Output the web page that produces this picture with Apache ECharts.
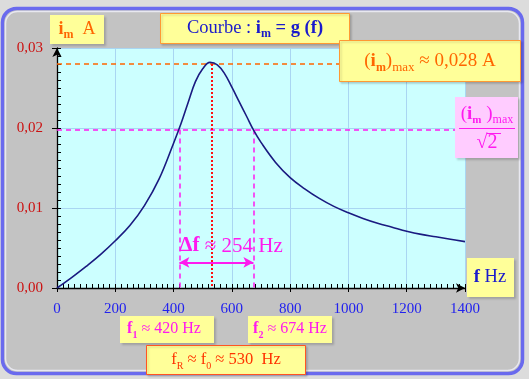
<!DOCTYPE html>
<html>
<head>
<meta charset="utf-8">
<script src="https://cdn.jsdelivr.net/npm/echarts@6/dist/echarts.min.js"></script>
<style>
html,body{margin:0;padding:0;background:#dcdcdc;}
#chart{width:529px;height:379px;}
</style>
</head>
<body>
<div id="chart"></div>
<script>
// ---- data ----
const freq = [0, 50, 100, 150, 200, 250, 300, 350, 400, 425, 450, 475, 500, 525, 550, 575, 600, 625, 650, 675, 700, 750, 800, 850, 900, 950, 1000, 1050, 1100, 1150, 1200, 1250, 1300, 1350, 1400];
const current = [0, 0.0013, 0.0027, 0.0042, 0.0059, 0.0078, 0.0103, 0.0136, 0.0181, 0.0205, 0.0232, 0.0258, 0.0274, 0.0282, 0.0279, 0.0268, 0.0251, 0.0233, 0.0215, 0.0197, 0.0182, 0.0157, 0.0138, 0.0124, 0.0112, 0.0102, 0.0094, 0.0087, 0.0081, 0.0076, 0.0071, 0.0067, 0.0064, 0.0061, 0.0058];
const xTickLabels = ['0', '200', '400', '600', '800', '1000', '1200', '1400'];
const yTickLabels = ['0,00', '0,01', '0,02', '0,03'];
const fRes = 530;      // f_R = f_0
const f1 = 420;
const f2 = 674;
const iMax = 0.028;
const iHalf = 0.0198;  // (i_m)max / sqrt(2)
const arrowLevel = 0.0032; // height of the Δf arrow

const SERIF = 'Liberation Serif';
const MAGENTA = '#ff1aef';
const ORANGE = '#ff6600';
const BLUE = '#1a1acc';

const chart = echarts.init(document.getElementById('chart'), null, {renderer: 'canvas'});

function tok(size, color, bold, extra) {
  return Object.assign({fontSize: size, fontFamily: SERIF, fill: color, color: color, fontWeight: bold ? 'bold' : 'normal'}, extra || {});
}
function mainTok(size, color, bold, lh) {
  return tok(size, color, bold, {lineHeight: lh, verticalAlign: 'middle'});
}
function subTok(size, color, bold) {
  return tok(size, color, bold, {lineHeight: size + 1, verticalAlign: 'bottom'});
}
function rect(x, y, w, h, fill, stroke, lw, z) {
  return {type: 'rect', z: z == null ? 100 : z, silent: true,
    shape: {x: x, y: y, width: w, height: h},
    style: {fill: fill, stroke: stroke || null, lineWidth: lw || 0,
      shadowColor: 'rgba(0,0,0,0.18)', shadowBlur: 2, shadowOffsetX: 1.5, shadowOffsetY: 1.5}};
}
function label(x, y, text, rich, z) {
  return {type: 'text', z: z == null ? 101 : z, silent: true, x: x, y: y,
    style: {text: text, rich: rich, align: 'center', verticalAlign: 'middle', fontFamily: SERIF}};
}

const graphics = [
  // outer frame
  {type: 'rect', z: -100, silent: true, shape: {x: 2.5, y: 8.5, width: 520, height: 365, r: 14},
    style: {fill: '#c3c3c3', stroke: '#6a6aee', lineWidth: 3.5}},
  {type: 'rect', z: -99, silent: true, shape: {x: 5.5, y: 11.5, width: 514, height: 359, r: 12},
    style: {fill: null, stroke: '#e8e8f0', lineWidth: 1.5}},

  // title
  rect(160.5, 13.5, 189, 30, '#ffff99', '#ff9933', 1),
  label(255, 28, '{a|Courbe : }{b|i}{s|m}{b| = g (f)}', {
    a: mainTok(18.5, BLUE, false, 24), b: mainTok(18.5, BLUE, true, 24), s: subTok(12, BLUE, true)}),

  // i_m A
  rect(50, 15, 54, 29, '#ffff99'),
  label(77, 29, '{b|i}{s|m}{a|  A}', {
    a: mainTok(18, ORANGE, false, 24), b: mainTok(18, ORANGE, true, 24), s: subTok(12, ORANGE, true)}),

  // (i_m)max ≈ 0,028 A
  rect(339.5, 40.5, 181, 41, '#ffff99', '#ff9933', 1),
  label(430, 61, '{a|(}{b|i}{s|m}{a|)}{t|max}{a| ≈ 0,028 A}', {
    a: mainTok(19, ORANGE, false, 26), b: mainTok(19, ORANGE, true, 26),
    s: subTok(12, ORANGE, true), t: subTok(13, ORANGE, false)}),

  // (i_m)max / sqrt2
  rect(455, 97, 63, 61, '#ffccff'),
  label(487, 114, '{a|(}{b|i}{s|m}{a| )}{t|max}', {
    a: mainTok(19, MAGENTA, false, 24), b: mainTok(19, MAGENTA, true, 24),
    s: subTok(11, MAGENTA, true), t: subTok(12, MAGENTA, false)}),
  {type: 'line', z: 101, silent: true, shape: {x1: 459, y1: 128.5, x2: 515, y2: 128.5}, style: {stroke: MAGENTA, lineWidth: 1}},
  label(487, 143, '{a|√2}', {a: mainTok(20, MAGENTA, false, 24)}),
  {type: 'line', z: 101, silent: true, shape: {x1: 487, y1: 133.5, x2: 501, y2: 133.5}, style: {stroke: MAGENTA, lineWidth: 1}},

  // Δf label
  label(231, 246, '{b|Δf}{a| ≈ 254 Hz}', {a: mainTok(21, MAGENTA, false, 24), b: mainTok(21, MAGENTA, true, 24)}),

  // f Hz
  rect(467, 258, 47, 39, '#ffff99'),
  label(490, 277, '{b|f}{a| Hz}', {a: mainTok(18.5, BLUE, false, 22), b: mainTok(18.5, BLUE, true, 22)}),

  // f1 ≈ 420 Hz
  rect(120, 316, 94, 27, '#ffff99'),
  label(164, 329, '{b|f}{s|1}{a| ≈ 420 Hz}', {
    a: mainTok(16, MAGENTA, false, 22), b: mainTok(16, MAGENTA, true, 22), s: subTok(10, MAGENTA, true)}),

  // f2 ≈ 674 Hz
  rect(248, 316, 84, 27, '#ffff99'),
  label(290, 329, '{b|f}{s|2}{a| ≈ 674 Hz}', {
    a: mainTok(16, MAGENTA, false, 22), b: mainTok(16, MAGENTA, true, 22), s: subTok(10, MAGENTA, true)}),

  // fR ≈ f0 ≈ 530 Hz
  rect(146.5, 345.5, 159, 29, '#ffff99', '#ff5522', 1),
  label(226, 360, '{a|f}{s|R}{a| ≈ f}{s|0}{a| ≈ 530  Hz}', {
    a: mainTok(16.5, '#ff3300', false, 22), s: subTok(10, '#ff3300', false)})
];

const dash = (color, type, w) => ({color: color, type: type, width: w});
const hiddenAxis = (gi, pos) => ({type: 'value', gridIndex: gi, position: pos, show: false, min: 0, max: 1});
const fineTick = {show: true, inside: false, length: 4, lineStyle: {color: '#000', width: 1}};

const option = {
  backgroundColor: '#dcdcdc',
  animation: false,
  grid: [
    {left: 57, top: 48, width: 408, height: 240, show: true, backgroundColor: '#ccffff', borderWidth: 0, containLabel: false},
    // thin strip lying on the f axis: carries the 20 Hz graduation
    {left: 57, top: 288, width: 408, height: 1, show: false, containLabel: false},
    // thin strip lying on the i axis: carries the 0,001 A graduation
    {left: 56, top: 48, width: 1, height: 240, show: false, containLabel: false}
  ],
  xAxis: [{
    type: 'value', gridIndex: 0, min: 0, max: 1400, interval: 200, position: 'bottom', z: 3,
    axisLine: {show: true, onZero: false, lineStyle: {color: '#000', width: 1.3}, symbol: ['none', 'arrow'], symbolSize: [7, 9]},
    axisTick: {show: true, inside: false, length: 4, lineStyle: {color: '#000', width: 1}},
    splitLine: {show: true, lineStyle: {color: '#a9d6f2', width: 1}},
    axisLabel: {color: '#2222ee', fontFamily: SERIF, fontSize: 15, margin: 14,
      formatter: v => xTickLabels[Math.round(v / 200)]}
  }, {
    type: 'value', gridIndex: 1, min: 0, max: 1400, interval: 20, position: 'top', z: 4,
    axisLine: {show: false, onZero: false},
    axisTick: fineTick, axisLabel: {show: false}, splitLine: {show: false}
  },
  hiddenAxis(2, 'bottom')],
  yAxis: [{
    type: 'value', gridIndex: 0, min: 0, max: 0.03, interval: 0.01, position: 'left', z: 3,
    axisLine: {show: true, onZero: false, lineStyle: {color: '#000', width: 1.3}, symbol: ['none', 'arrow'], symbolSize: [7, 9]},
    axisTick: {show: true, inside: false, length: 5, lineStyle: {color: '#000', width: 1}},
    splitLine: {show: true, lineStyle: {color: '#a9d6f2', width: 1}},
    axisLabel: {color: '#cc1111', fontFamily: SERIF, fontSize: 15, margin: 14,
      formatter: v => yTickLabels[Math.round(v / 0.01)]}
  },
  hiddenAxis(1, 'left'),
  {
    type: 'value', gridIndex: 2, min: 0, max: 0.03, interval: 0.001, position: 'right', z: 4,
    axisLine: {show: false, onZero: false},
    axisTick: fineTick, axisLabel: {show: false}, splitLine: {show: false}
  }],
  series: [{
    type: 'line', xAxisIndex: 0, yAxisIndex: 0,
    data: freq.map((f, i) => [f, current[i]]),
    smooth: 0.4, showSymbol: false, silent: true,
    lineStyle: {color: '#1a1a80', width: 1.6},
    z: 5,
    markLine: {
      silent: true, symbol: 'none', animation: false,
      label: {show: false},
      data: [
        [{coord: [0, iMax], lineStyle: dash(ORANGE, [5, 4], 1.5)}, {coord: [1400, iMax]}],
        [{coord: [0, iHalf], lineStyle: dash(MAGENTA, [5, 4], 1.5)}, {coord: [1400, iHalf]}],
        [{coord: [f1, iHalf], lineStyle: dash(MAGENTA, [5, 4], 1.5)}, {coord: [f1, 0]}],
        [{coord: [f2, iHalf], lineStyle: dash(MAGENTA, [5, 4], 1.5)}, {coord: [f2, 0]}],
        [{coord: [fRes, iMax], lineStyle: dash('#ff1111', [2, 2], 2)}, {coord: [fRes, 0]}],
        [{coord: [f1, arrowLevel], symbol: 'arrow', symbolSize: [8, 10], lineStyle: dash(MAGENTA, 'solid', 2)},
         {coord: [f2, arrowLevel], symbol: 'arrow', symbolSize: [8, 10]}]
      ]
    }
  }],
  graphic: graphics
};
chart.setOption(option);
</script>
</body>
</html>
